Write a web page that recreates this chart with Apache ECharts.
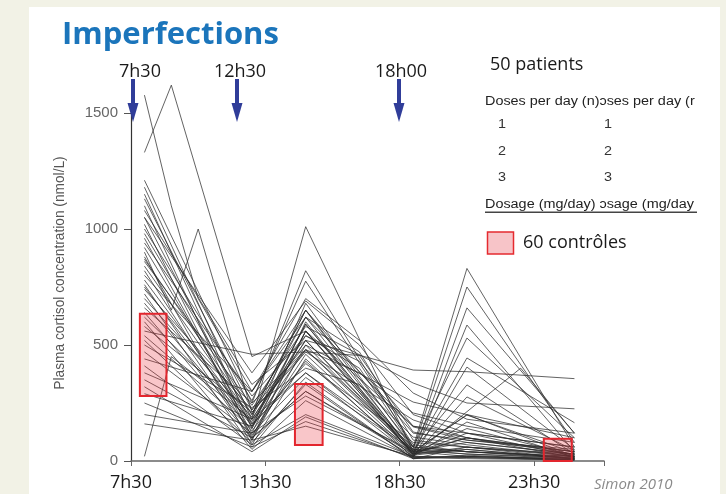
<!DOCTYPE html>
<html><head><meta charset="utf-8">
<script src="https://cdn.jsdelivr.net/npm/echarts@6/dist/echarts.min.js"></script>
<style>
html,body{margin:0;padding:0;background:#f2f2e6;}
#c{width:726px;height:494px;background:linear-gradient(#fff,#fff) 29px 7px / 691px 487px no-repeat, #f2f2e6;}
</style>
</head><body><div id="c"></div>
<script>
const _ = null;
// sampling times, hours after 7h30
const hours = [0.5, 1.5, 2.5, 4.5, 6.5, 8.5, 10.5, 12.5, 14.5, 16.5];
// plasma cortisol (nmol/L) of the 50 patients at each sampling time
const v08h = [1577,1330,1210,1180,1150,1130,1100,1080,1050,1020, 1000,980,960,940,920,900,880,860,840,820, 800,780,760,740,720,700,680,660,640,620, 600,580,560,540,520,500,470,440,410,380, 350,320,290,250,200,160,20,1050,870,750];
const v09h = [1100,1620,_,_,_,_,_,_,_,_, _,_,_,_,_,650,_,_,_,_, _,_,_,_,_,_,_,_,_,_, _,_,_,_,_,_,_,_,_,_, _,_,_,_,_,_,450,_,_,_];
const v10h = [700,_,_,_,_,_,_,_,_,_, _,_,_,_,_,1000,_,_,_,_, _,_,_,_,_,_,_,_,_,_, _,_,_,_,_,_,_,_,_,_, _,_,_,_,_,_,_,_,_,_];
const v12h = [300,450,250,180,140,220,100,330,160,90, 260,200,120,280,150,210,70,240,180,110, 300,160,90,220,60,190,130,250,100,170, 50,210,460,140,80,230,120,300,70,180, 100,40,150,60,120,90,180,380,200,150];
const v14h = [650,560,820,1010,680,620,560,520,590,500, 775,650,600,540,480,480,440,580,520,460, 700,380,560,500,340,620,430,480,300,520, 260,470,470,560,330,400,360,620,200,540, 300,190,420,170,280,150,380,690,650,590];
const v16h = [_,_,_,_,_,470,_,_,_,_, _,_,_,430,_,_,_,_,_,_, 520,_,_,_,_,_,_,380,_,_, _,_,455,_,_,330,_,_,_,400, _,_,_,_,_,_,_,500,_,_];
const v18h = [120,150,60,40,50,90,30,392,20,35, 70,60,25,150,40,60,15,336,45,30, 293,20,50,254,10,40,25,207,20,35, 15,177,125,30,10,103,45,147,20,60, 30,10,80,15,40,20,50,200,30,40];
const v20h = [90,100,830,200,750,60,660,385,586,100, 40,530,50,120,444,40,405,250,328,60, 180,276,30,200,25,198,_,150,168,140, 20,100,80,120,60,70,30,90,15,40, 50,20,60,10,20,15,40,120,100,80];
const v22h = [_,_,_,_,_,_,_,_,_,_, _,_,_,_,_,_,_,_,_,_, _,_,_,_,_,_,400,_,_,_, _,_,_,_,_,_,_,_,_,_, _,_,_,_,_,_,_,_,_,_];
const v24h = [40,30,60,20,80,30,120,355,40,15, 10,100,10,60,165,20,50,225,30,20, 120,45,10,100,5,35,120,80,15,25, 8,40,30,20,10,20,15,50,5,20, 10,5,25,5,10,5,15,60,40,30];

// control ranges (60 controls)
const controlX0 = [0.33, 6.1, 15.36];
const controlX1 = [1.32, 7.13, 16.4];
const controlLow = [280, 69, 0];
const controlHigh = [635, 332, 96];

const xTickLabels = ['7h30', '13h30', '18h30', '23h30'];
const doseLabels = ['7h30', '12h30', '18h00'];
const tableNumbers = ['1', '2', '3'];

const columns = [v08h, v09h, v10h, v12h, v14h, v16h, v18h, v20h, v22h, v24h];
const series = [];
for (let i = 0; i < v08h.length; i++) {
  const pts = [];
  hours.forEach((h, k) => { const v = columns[k][i]; if (v !== null && v !== undefined) pts.push([h, v]); });
  series.push({
    type: 'line', data: pts, symbol: 'none', silent: true, clip: false, animation: false,
    lineStyle: { color: '#2a2a2a', width: 0.9, opacity: 0.82 }, z: 2
  });
}
series.push({
  type: 'custom', silent: true, animation: false, z: 5, clip: false,
  encode: { x: [0, 1], y: [2, 3] },
  data: controlX0.map((x, i) => [x, controlX1[i], controlLow[i], controlHigh[i]]),
  renderItem: (params, api) => {
    const p0 = api.coord([api.value(0), api.value(3)]);
    const p1 = api.coord([api.value(1), api.value(2)]);
    return { type: 'rect', shape: { x: p0[0], y: p0[1], width: p1[0] - p0[0], height: p1[1] - p0[1] },
      style: { fill: 'rgba(232,50,60,0.28)', stroke: '#e3262e', lineWidth: 2 } };
  }
});

const SF = '"Open Sans", sans-serif';
const AF = '"Liberation Sans", Arial, sans-serif';
function txt(x, y, text, font, fill, align, extra) {
  return Object.assign({ type: 'text', x: x, y: y, z: 100,
    style: { text: text, font: font, fill: fill, textAlign: align || 'left', align: align || 'left',
      textVerticalAlign: 'middle', verticalAlign: 'middle' } }, extra || {});
}
const arrowX = [133, 237, 399];
const labelX = [140, 240, 401];
const graphics = [];
graphics.push(txt(62, 35, 'Imperfections', 'bold 31px ' + SF, '#1b75bb'));
doseLabels.forEach((l, i) => {
  graphics.push(txt(labelX[i], 71.5, l, '18px ' + SF, '#1a1a1a', 'center'));
  graphics.push({ type: 'rect', z: 100, shape: { x: arrowX[i] - 2, y: 79, width: 4, height: 25 }, style: { fill: '#303d99' } });
  graphics.push({ type: 'polygon', z: 100, shape: { points: [[arrowX[i] - 5.5, 103], [arrowX[i] + 5.5, 103], [arrowX[i], 122]] }, style: { fill: '#303d99' } });
});
graphics.push(txt(490, 65, '50 patients', '18px ' + SF, '#1a1a1a'));
graphics.push(txt(485, 102, 'Doses per day (n)\u0254ses per day (r', '12px ' + AF, '#222', 'left', { scaleX: 1.2 }));
tableNumbers.forEach((n, i) => {
  const y = [125, 151.5, 178][i];
  graphics.push(txt(502, y, n, '12px ' + AF, '#333', 'center', { scaleX: 1.2 }));
  graphics.push(txt(608, y, n, '12px ' + AF, '#333', 'center', { scaleX: 1.2 }));
});
graphics.push(txt(485, 205, 'Dosage (mg/day) \u0254sage (mg/day', '12px ' + AF, '#222', 'left', { scaleX: 1.2 }));
graphics.push({ type: 'rect', z: 100, shape: { x: 485, y: 211.5, width: 212, height: 1.5 }, style: { fill: '#444' } });
graphics.push({ type: 'rect', z: 100, shape: { x: 487.5, y: 232, width: 26, height: 22 }, style: { fill: '#f7c4c8', stroke: '#e52a2f', lineWidth: 1.5 } });
graphics.push(txt(523, 243, '60 contrôles', '18px ' + SF, '#1a1a1a'));
graphics.push(txt(594, 485, 'Simon 2010', 'italic 15px ' + SF, '#8a8a8a'));
graphics.push(txt(60, 273, 'Plasma cortisol concentration (nmol/L)', '14px ' + AF, '#555', 'center', { rotation: Math.PI / 2, scaleX: 0.98 }));

const chart = echarts.init(document.getElementById('c'), null, { renderer: 'canvas' });
chart.setOption({
  backgroundColor: 'transparent',
  animation: false,
  grid: { left: 131, right: 122, top: 113, bottom: 33, containLabel: false, outerBoundsMode: 'none' },
  xAxis: {
    type: 'value', min: 0, max: 17.6, interval: 5,
    splitLine: { show: false },
    axisLine: { lineStyle: { color: '#666', width: 1.5 } },
    axisTick: { show: true, length: 5, lineStyle: { color: '#666' } },
    axisLabel: { margin: 13, fontSize: 18, fontFamily: 'Open Sans', color: '#1a1a1a',
      formatter: v => xTickLabels[Math.round(v / 5)] || '' }
  },
  yAxis: {
    type: 'value', min: 0, max: 1500, interval: 500,
    splitLine: { show: false },
    axisLine: { show: true, lineStyle: { color: '#333', width: 1.2 } },
    axisTick: { show: true, length: 7, lineStyle: { color: '#555' } },
    axisLabel: { margin: 13, fontSize: 15, fontFamily: 'Liberation Sans', color: '#666',
      formatter: v => String(v) }
  },
  graphic: { elements: graphics },
  series: series
});
</script>
</body></html>
